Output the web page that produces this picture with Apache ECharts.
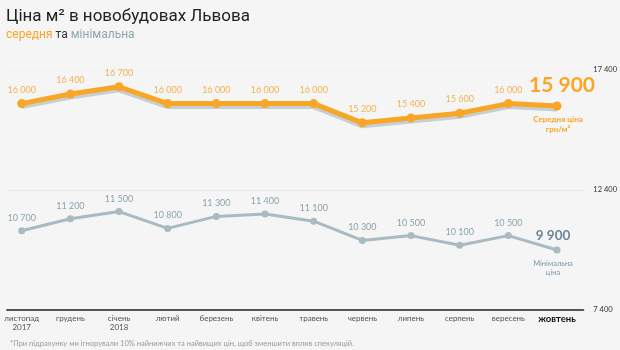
<!DOCTYPE html>
<html><head><meta charset="utf-8">
<script src="https://cdn.jsdelivr.net/npm/echarts@6/dist/echarts.min.js"></script>
<style>html,body{margin:0;padding:0;background:#f5f5f5;}#c{width:620px;height:350px;}</style>
</head><body><div id="c"></div>
<script>
var months = ['листопад\n2017','грудень','січень\n2018','лютий','березень','квітень','травень','червень','липень','серпень','вересень','жовтень'];
var avgPrice = [16000,16400,16700,16000,16000,16000,16000,15200,15400,15600,16000,15900];
var minPrice = [10700,11200,11500,10800,11300,11400,11100,10300,10500,10100,10500,9900];
var yTicks = [7400,12400,17400];

function fmt(v){ return String(v).replace(/\B(?=(\d{3})+(?!\d))/g,' '); }
var last = months.length - 1;
var FONT = 'Lato, "Open Sans", sans-serif';

var chart = echarts.init(document.getElementById('c'));
chart.setOption({
  backgroundColor:'#f5f5f5',
  animation:false,
  title:[
    {text:'Ціна м² в новобудовах Львова', left:1, top:3,
     textStyle:{fontFamily:'Roboto',fontSize:17,fontWeight:'normal',color:'#222'},
     subtext:'{a|середня} {b|та} {c|мінімальна}', itemGap:4,
     subtextStyle:{fontFamily:'Roboto',fontSize:12,rich:{
       a:{color:'#f9a526',fontSize:12,fontFamily:'Roboto'},
       b:{color:'#333',fontSize:12,fontFamily:'Roboto'},
       c:{color:'#8fa6b1',fontSize:12,fontFamily:'Roboto'}}}},
    {text:'*При підрахунку ми ігнорували 10% найнижчих та найвищих цін, щоб зменшити вплив спекуляцій.',
     left:5, top:335, textStyle:{fontFamily:FONT,fontSize:7.5,fontWeight:'normal',color:'#9a9a9a'}}
  ],
  grid:[
    {left:7, right:33, top:70, bottom:40},
    {left:21.7, right:63, top:70, bottom:40}
  ],
  xAxis:[
    {type:'value', gridIndex:0, min:0, max:1, axisLine:{show:true,lineStyle:{color:'#555',width:2}},
     axisTick:{show:false}, axisLabel:{show:false}, splitLine:{show:false}},
    {type:'category', gridIndex:1, data:months, boundaryGap:false,
     axisLine:{show:false}, axisTick:{show:false},
     axisLabel:{margin:4, fontFamily:FONT, fontSize:8, lineHeight:9, color:'#555', interval:0,
       formatter:function(v,i){ return i===last ? '{b|'+v+'}' : v; },
       rich:{b:{fontFamily:FONT,fontSize:9.5,fontWeight:'bold',color:'#111'}}}}
  ],
  yAxis:[
    {type:'value', gridIndex:0, position:'right', min:7400, max:17400,
     axisLine:{show:false},
     axisTick:{show:false, customValues:yTicks},
     axisLabel:{customValues:yTicks, margin:10, fontFamily:FONT, fontSize:7.5, color:'#333',
       formatter:function(v){return fmt(v);}},
     splitLine:{show:true, lineStyle:{color:['rgba(0,0,0,0)','#e8e8e8','#f0f0f0'],width:1}}},
    {type:'value', gridIndex:1, min:7400, max:17400, show:false}
  ],
  series:[
    {type:'line', xAxisIndex:1, yAxisIndex:1, name:'Середня',
     data: avgPrice.map(function(v,i){
       if(i===last) return {value:v, label:{formatter:fmt(v), fontSize:21, fontWeight:'bold', color:'#f9a526', distance:6, offset:[5,0]}};
       return v; }),
     symbol:'circle', symbolSize:9, itemStyle:{color:'#f9a526'},
     lineStyle:{color:'#f9a526', width:5, shadowColor:'rgba(150,170,180,0.5)', shadowBlur:0, shadowOffsetY:3},
     label:{show:true, position:'top', distance:5, fontFamily:FONT, fontSize:9, color:'#f5b24f',
       formatter:function(p){return fmt(p.value);}},
     markPoint:{symbol:'circle', symbolSize:0, silent:true,
       data:[{coord:[last, avgPrice[last]], label:{show:true, position:'bottom', distance:9, offset:[1,0],
         formatter:'Середня ціна\nгрн/м²', fontFamily:FONT, fontSize:8, lineHeight:9.5, fontWeight:'bold', color:'#f9a526'}}]}},
    {type:'line', xAxisIndex:1, yAxisIndex:1, name:'Мінімальна',
     data: minPrice.map(function(v,i){
       if(i===last) return {value:v, label:{formatter:fmt(v), fontSize:13.5, fontWeight:'bold', color:'#6b8795', distance:4, offset:[-4,0]}};
       return v; }),
     symbol:'circle', symbolSize:7, itemStyle:{color:'#a8bac2'},
     lineStyle:{color:'#a8bac2', width:3},
     label:{show:true, position:'top', distance:5, fontFamily:FONT, fontSize:9, color:'#8ea3ad',
       formatter:function(p){return fmt(p.value);}},
     markPoint:{symbol:'circle', symbolSize:0, silent:true,
       data:[{coord:[last, minPrice[last]], label:{show:true, position:'bottom', distance:9, offset:[-4,0],
         formatter:'Мінімальна\nціна', fontFamily:FONT, fontSize:7.5, lineHeight:9, fontWeight:'normal', color:'#7f98a4'}}]}}
  ]
});
</script></body></html>
